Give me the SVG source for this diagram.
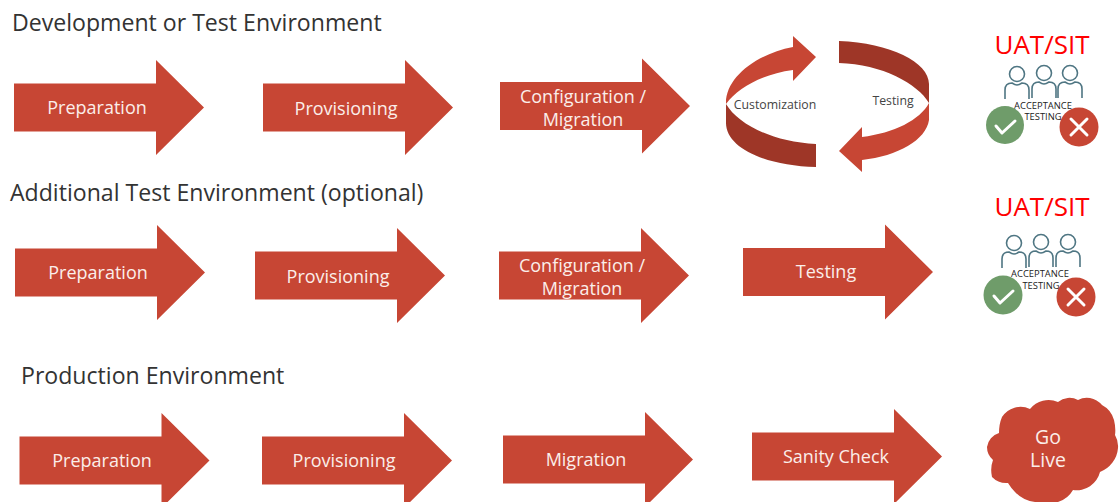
<svg xmlns="http://www.w3.org/2000/svg" width="1120" height="502" viewBox="0 0 1120 502">
<style>
text{font-family:"Open Sans","Noto Sans","Liberation Sans",sans-serif}
.title{font-size:23.1px;fill:#333}
.lbl{font-size:18px;fill:#fbeeea;text-anchor:middle}
.arrow{fill:#c74634}
.dark{fill:#9e3627}
.uat{font-size:26px;fill:#f00;text-anchor:middle}
.small{font-size:9.4px;fill:#222;text-anchor:middle}
.cyc{font-size:12.3px;fill:#444;text-anchor:middle}
.golive{font-size:19.5px;fill:#fbeeea;text-anchor:middle}
.ppl{fill:none;stroke:#4f7683;stroke-width:1.6}
.ok{fill:#6f9c6a}
.no{fill:#c74634}
.mk{fill:none;stroke:#fff;stroke-width:3;stroke-linecap:round;stroke-linejoin:round}
</style>
<defs>
<path id="arr" d="M0,-24H142V-47.500L190,0L142,47.500V24H0Z"/>
<g id="person" class="ppl"><circle cx="0" cy="0" r="7.500"/><path d="M-12,25V16Q-12,9 -5,9Q-2,11 0,11Q2,11 5,9Q12,9 12,16V25"/></g>
</defs>
<g id="titles">
<text class="title" x="12" y="31">Development or Test Environment</text>
<text class="title" x="10" y="201">Additional Test Environment (optional)</text>
<text class="title" x="21" y="384">Production Environment</text>
</g>
<g id="r1-preparation"><use href="#arr" class="arrow" x="14" y="107.500"/><text class="lbl" x="97" y="114">Preparation</text></g>
<g id="r1-provisioning"><use href="#arr" class="arrow" x="263" y="107.500"/><text class="lbl" x="346" y="115">Provisioning</text></g>
<g id="r1-config"><use href="#arr" class="arrow" x="500" y="106"/><text class="lbl" x="583" y="103">Configuration /</text><text class="lbl" x="583" y="126">Migration</text></g>
<g id="r1-cycle">
<path class="arrow" d="M726,104C725,78 756,54 793,47V36L816,57L793,81V70C762,74 738,88 726,104Z"/>
<path class="dark" d="M726,104C738,124 772,142 816,144V167C766,166 726,148 726,123Z"/>
<path class="dark" d="M839,41C890,43 929,62 929,84V103C918,84 882,64 839,63Z"/>
<path class="arrow" d="M929,103V120C926,140 898,156 862,160V172L839,151L862,127V137C894,133 920,120 929,103Z"/>
<text class="cyc" x="775" y="109">Customization</text>
<text class="cyc" x="893" y="105">Testing</text>
</g>
<g id="r1-uat">
<text class="uat" x="1042" y="54">UAT/SIT</text>
<use href="#person" x="1017" y="74"/><use href="#person" x="1044" y="73"/><use href="#person" x="1070" y="73"/>
<text class="small" x="1043" y="109">ACCEPTANCE</text><text class="small" x="1043" y="120">TESTING</text>
<circle class="ok" cx="1005" cy="125" r="19"/><path class="mk" d="M996,126L1002,133L1015,121"/>
<circle class="no" cx="1079" cy="127" r="19.500"/><path class="mk" d="M1071,119L1087,135M1087,119L1071,135"/>
</g>
<g id="r2-preparation"><use href="#arr" class="arrow" x="15" y="272.500"/><text class="lbl" x="98" y="279">Preparation</text></g>
<g id="r2-provisioning"><use href="#arr" class="arrow" x="255" y="275.500"/><text class="lbl" x="338" y="283">Provisioning</text></g>
<g id="r2-config"><use href="#arr" class="arrow" x="499" y="275.500"/><text class="lbl" x="582" y="272">Configuration /</text><text class="lbl" x="582" y="295">Migration</text></g>
<g id="r2-testing"><use href="#arr" class="arrow" x="743" y="272"/><text class="lbl" x="826" y="278">Testing</text></g>
<g id="r2-uat">
<text class="uat" x="1042" y="216">UAT/SIT</text>
<use href="#person" x="1014" y="243"/><use href="#person" x="1041" y="242"/><use href="#person" x="1068" y="242"/>
<text class="small" x="1040" y="277">ACCEPTANCE</text><text class="small" x="1041" y="289">TESTING</text>
<circle class="ok" cx="1003" cy="295" r="19.500"/><path class="mk" d="M994,296L1000,303L1013,291"/>
<circle class="no" cx="1076" cy="297" r="19.500"/><path class="mk" d="M1068,289L1084,305M1084,289L1068,305"/>
</g>
<g id="r3-preparation"><use href="#arr" class="arrow" x="19.500" y="460.500"/><text class="lbl" x="102" y="467">Preparation</text></g>
<g id="r3-provisioning"><use href="#arr" class="arrow" x="262" y="460.500"/><text class="lbl" x="344" y="467">Provisioning</text></g>
<g id="r3-migration"><use href="#arr" class="arrow" x="503" y="459.500"/><text class="lbl" x="586" y="466">Migration</text></g>
<g id="r3-sanity"><use href="#arr" class="arrow" x="752" y="456.500"/><text class="lbl" x="836" y="463">Sanity Check</text></g>
<g id="r3-golive">
<path class="arrow" d="M987,447A17,17 0 0 1 999,433Q999,424 1002,417A22,22 0 0 1 1030,409A24,24 0 0 1 1058,402A18,18 0 0 1 1078,400A18,18 0 0 1 1090,398A22,22 0 0 1 1102,405A24,24 0 0 1 1114,420Q1116,428 1115,435A22,22 0 0 1 1118,448A28,28 0 0 1 1100,472A24,24 0 0 1 1073,490A26,26 0 0 1 1058,502H1035A32,32 0 0 1 1015,492Q1011,488 1008,483A20,20 0 0 1 992,477Q990,468 993,460A17,17 0 0 1 987,447Z"/>
<text class="golive" x="1048" y="444">Go</text>
<text class="golive" x="1048" y="467">Live</text>
</g>
</svg>
